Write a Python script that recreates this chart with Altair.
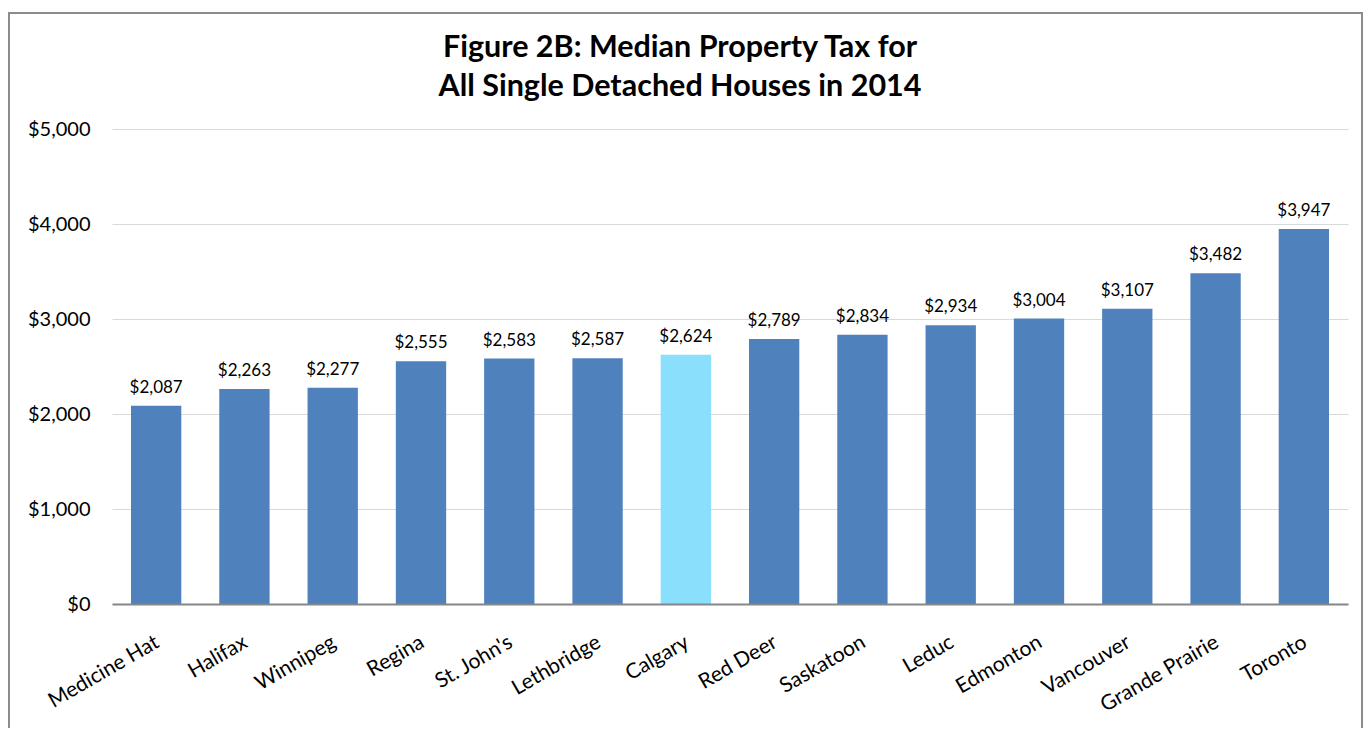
import altair as alt
import pandas as pd

cities = ["Medicine Hat", "Halifax", "Winnipeg", "Regina", "St. John's", "Lethbridge",
          "Calgary", "Red Deer", "Saskatoon", "Leduc", "Edmonton", "Vancouver",
          "Grande Prairie", "Toronto"]
taxes = [2087, 2263, 2277, 2555, 2583, 2587, 2624, 2789, 2834, 2934, 3004, 3107, 3482, 3947]
highlight = "Calgary"
title_lines = ["Figure 2B: Median Property Tax for", "All Single Detached Houses in 2014"]
y_ticks = [0, 1000, 2000, 3000, 4000, 5000]

df = pd.DataFrame({"city": cities, "tax": taxes})
df["group"] = ["highlight" if c == highlight else "other" for c in cities]

W, H = 1236, 475
FONT = "Lato"

base = alt.Chart(df).encode(
    x=alt.X("city:N", sort=cities, title=None,
            scale=alt.Scale(paddingInner=0.43, paddingOuter=0.215),
            axis=alt.Axis(labelAngle=-30, labelAlign="right", labelBaseline="top",
                          labelFontSize=21, labelFont=FONT, labelColor="#000",
                          labelPadding=27, labelOffset=-4, labelLimit=0,
                          labelOverlap=False, ticks=False, domainColor="#868686",
                          domainWidth=2, zindex=1)),
    y=alt.Y("tax:Q", title=None, scale=alt.Scale(domain=[0, 5000]),
            axis=alt.Axis(values=y_ticks, format="$,.0f", labelFontSize=20,
                          labelFont=FONT, labelColor="#000", labelPadding=22,
                          ticks=False, domain=False, gridColor="#D9D9D9",
                          gridWidth=1)),
)

bars = base.mark_bar().encode(
    color=alt.Color("group:N", legend=None,
                    scale=alt.Scale(domain=["other", "highlight"],
                                    range=["#4F81BD", "#89DFFC"]))
)

labels = base.mark_text(baseline="alphabetic", dy=-13, fontSize=17, font=FONT,
                        color="#000").encode(text=alt.Text("tax:Q", format="$,.0f"))

one = alt.Data(values=[{"f": 1}])

frame = alt.Chart(one).mark_rect(
    fillOpacity=0, stroke="#8C8C8C", strokeWidth=2
).encode(x=alt.value(-103), x2=alt.value(1250), y=alt.value(-116), y2=alt.value(700))

title1 = alt.Chart(one).mark_text(
    text=title_lines[0], fontSize=30.5, font=FONT, fontWeight="bold", color="#000",
    align="center", baseline="alphabetic"
).encode(x=alt.value(568), y=alt.value(-72))

title2 = alt.Chart(one).mark_text(
    text=title_lines[1], fontSize=30.5, font=FONT, fontWeight="bold", color="#000",
    align="center", baseline="alphabetic"
).encode(x=alt.value(568), y=alt.value(-33))

chart = alt.layer(frame, bars, labels, title1, title2).properties(
    width=W, height=H,
    autosize=alt.AutoSizeParams(type="none"),
    padding={"left": 104, "top": 121, "right": 15, "bottom": 124},
).configure_view(stroke=None)

chart.save("out.html", embed_options={"renderer": "svg", "actions": False})
